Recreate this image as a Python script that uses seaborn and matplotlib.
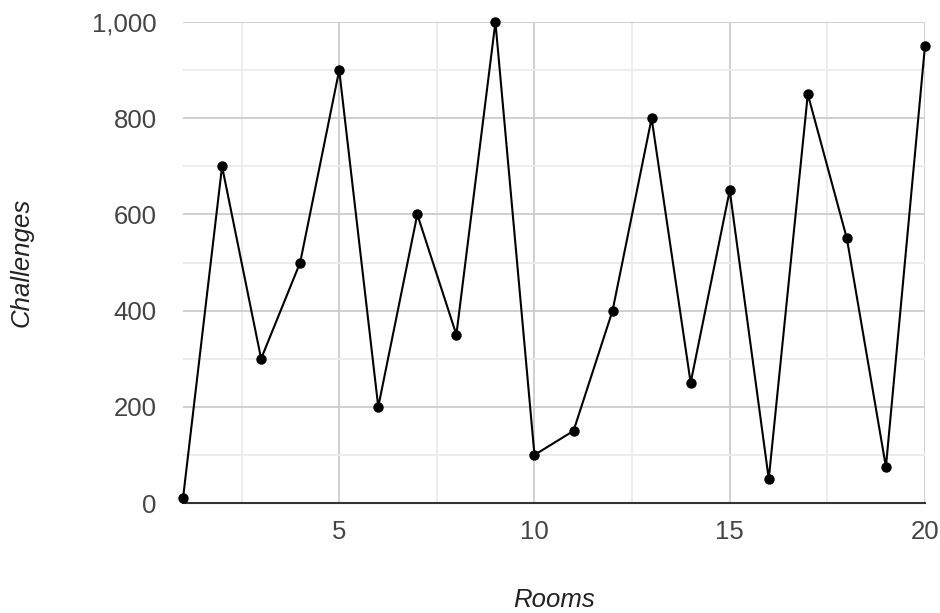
import matplotlib.pyplot as plt
import seaborn as sns
import pandas as pd
from matplotlib.ticker import MultipleLocator, FuncFormatter

# data
rooms = list(range(1, 21))
challenges = [10, 700, 300, 500, 900, 200, 600, 350, 1000, 100,
              150, 400, 800, 250, 650, 50, 850, 550, 75, 950]

df = pd.DataFrame({'Rooms': rooms, 'Challenges': challenges})

sns.set_style('white')
plt.rcParams['font.family'] = ['Liberation Sans', 'DejaVu Sans']

fig = plt.figure(figsize=(9.4, 6.13), dpi=100)
ax = fig.add_axes([0.1947, 0.1794, 0.7893, 0.7846])

sns.lineplot(x='Rooms', y='Challenges', data=df, ax=ax, color='black',
             linewidth=1.5, marker='o', markersize=7.5, markeredgewidth=0,
             zorder=5, clip_on=False)

ax.set_xlim(1, 20)
ax.set_ylim(0, 1000)
ax.xaxis.set_major_locator(MultipleLocator(5))
ax.xaxis.set_minor_locator(MultipleLocator(2.5))
ax.yaxis.set_major_locator(MultipleLocator(200))
ax.yaxis.set_minor_locator(MultipleLocator(100))
ax.yaxis.set_major_formatter(FuncFormatter(lambda v, p: f'{int(v):,}'))

ax.grid(True, which='major', color='#cccccc', linewidth=1.3)
ax.grid(True, which='minor', color='#ebebeb', linewidth=1.3)
ax.set_axisbelow(True)

for s in ['top', 'left', 'right']:
    ax.spines[s].set_visible(False)
ax.spines['bottom'].set_color('#333333')
ax.spines['bottom'].set_linewidth(1.5)
ax.spines['bottom'].set_zorder(4)

ax.tick_params(which='both', length=0, labelsize=18.5, colors='#444444')
ax.tick_params(axis='x', pad=12)
ax.tick_params(axis='y', pad=19)

ax.set_xlabel('Rooms', fontsize=18.5, style='italic', color='#222222')
ax.set_ylabel('Challenges', fontsize=18.5, style='italic', color='#222222')
ax.xaxis.set_label_coords(0.5, -0.177)
ax.yaxis.set_label_coords(-0.201, 0.5)

plt.savefig('out.png', dpi=100)
